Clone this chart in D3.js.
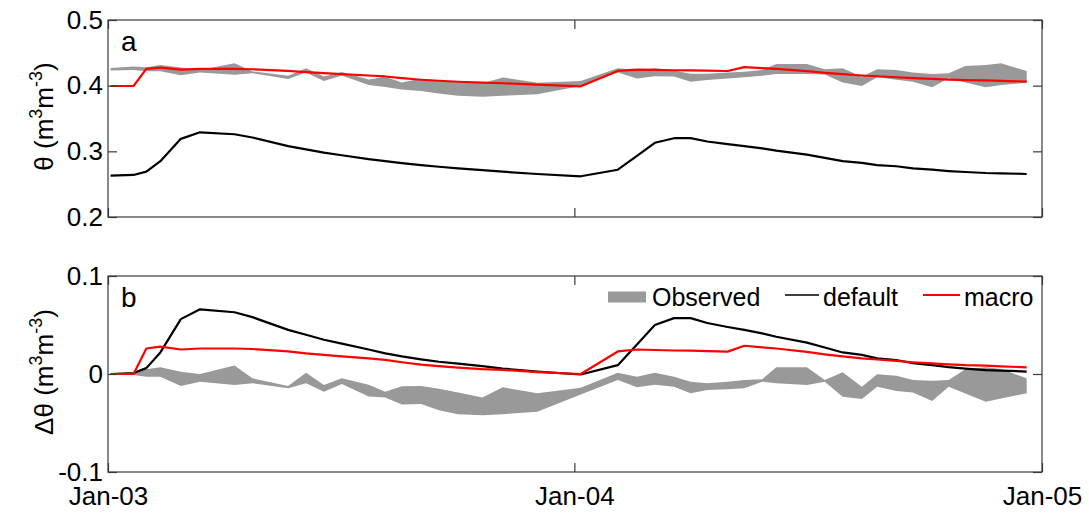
<!DOCTYPE html>
<html>
<head>
<meta charset="utf-8">
<script src="https://cdn.jsdelivr.net/npm/d3@7"></script>
<style>
  html, body { margin: 0; padding: 0; background: #fff; }
  svg { display: block; font-family: "Liberation Sans", Arial, Helvetica, sans-serif; }
</style>
</head>
<body>
<svg id="chart" width="1089" height="514"></svg>
<script>
// ---------------- data ----------------
const dates = ["2003-01-03","2003-01-21","2003-01-31","2003-02-11","2003-02-27","2003-03-14","2003-04-10","2003-04-24","2003-05-22","2003-06-05","2003-06-19","2003-07-03","2003-07-24","2003-08-06","2003-08-19","2003-09-03","2003-09-17","2003-10-02","2003-10-21","2003-11-06","2003-12-03","2004-01-06","2004-02-04","2004-02-19","2004-03-04","2004-03-19","2004-04-01","2004-04-14","2004-04-30","2004-05-13","2004-05-27","2004-06-07","2004-07-01","2004-07-15","2004-07-29","2004-08-13","2004-08-25","2004-09-09","2004-09-22","2004-10-07","2004-10-20","2004-11-02","2004-11-18","2004-11-30","2004-12-20"];

// panel a: soil water content theta (m3 m-3)
const defaultTheta = [0.263,0.264,0.269,0.285,0.319,0.329,0.326,0.321,0.308,0.303,0.298,0.294,0.288,0.285,0.282,0.279,0.2765,0.274,0.2715,0.269,0.2655,0.262,0.272,0.293,0.313,0.320,0.320,0.315,0.311,0.308,0.3045,0.301,0.295,0.290,0.285,0.2825,0.279,0.2773,0.274,0.272,0.270,0.2685,0.267,0.2665,0.2655];
const macroTheta = [0.3995,0.3995,0.4255,0.4275,0.4245,0.4255,0.4255,0.425,0.4225,0.4205,0.419,0.4175,0.4155,0.414,0.4115,0.409,0.4075,0.406,0.4045,0.4037,0.4015,0.399,0.4225,0.4245,0.424,0.4235,0.4233,0.4229,0.4223,0.4283,0.4267,0.4255,0.422,0.4195,0.4175,0.4155,0.4143,0.4128,0.4115,0.4103,0.4093,0.4085,0.408,0.4073,0.4063];
const observedThetaHigh = [0.427,0.429,0.428,0.4315,0.4275,0.424,0.434,0.422,0.415,0.4265,0.414,0.421,0.4095,0.4135,0.405,0.411,0.408,0.406,0.4035,0.4125,0.4045,0.407,0.4265,0.424,0.4265,0.423,0.418,0.418,0.420,0.4213,0.424,0.433,0.433,0.4249,0.4264,0.4137,0.4249,0.424,0.420,0.4178,0.4188,0.430,0.4315,0.434,0.4223];
const observedThetaLow = [0.423,0.424,0.422,0.422,0.416,0.420,0.4165,0.419,0.410,0.420,0.407,0.4155,0.401,0.398,0.394,0.392,0.388,0.3845,0.383,0.3845,0.387,0.3995,0.420,0.411,0.4145,0.414,0.406,0.4085,0.411,0.4127,0.415,0.4178,0.4178,0.417,0.405,0.3995,0.4127,0.409,0.406,0.3975,0.4112,0.405,0.3975,0.401,0.4046];

// panel b: change in soil water content (m3 m-3)
const defaultDelta = [0,0.001,0.006,0.022,0.056,0.066,0.063,0.058,0.045,0.040,0.035,0.031,0.025,0.021,0.018,0.015,0.0125,0.0105,0.008,0.0055,0.0025,-0.0005,0.009,0.030,0.050,0.057,0.057,0.052,0.048,0.045,0.0415,0.038,0.032,0.027,0.022,0.0195,0.016,0.0143,0.011,0.009,0.007,0.0055,0.004,0.0035,0.0025];
const macroDelta = [0,0,0.026,0.028,0.025,0.026,0.026,0.0255,0.023,0.021,0.0195,0.018,0.016,0.0145,0.012,0.0095,0.008,0.0065,0.005,0.0042,0.002,0,0.023,0.025,0.0245,0.024,0.0238,0.0234,0.0228,0.0288,0.0272,0.026,0.0225,0.020,0.018,0.016,0.0148,0.0133,0.012,0.0108,0.0098,0.009,0.0085,0.0078,0.0068];
const observedDeltaHigh = [0,0.001,0.0048,0.0068,0.0024,0,0.0088,-0.0044,-0.0122,0.0014,-0.0112,-0.0044,-0.011,-0.018,-0.0125,-0.0122,-0.015,-0.019,-0.024,-0.0135,-0.0197,-0.014,0.0014,-0.0027,0.0014,-0.0027,-0.0078,-0.0095,-0.0078,-0.0061,-0.0054,0.0068,0.0068,-0.0061,0.0017,-0.0129,-0.0003,-0.0017,-0.0061,-0.0068,-0.0061,0.0048,0.0068,0.005,-0.0044];
const observedDeltaLow = [0,-0.001,-0.0027,-0.0027,-0.0122,-0.0078,-0.0112,-0.0095,-0.0146,-0.0095,-0.018,-0.0102,-0.023,-0.024,-0.031,-0.0306,-0.037,-0.041,-0.042,-0.041,-0.0385,-0.021,-0.006,-0.0136,-0.011,-0.013,-0.0197,-0.0163,-0.0155,-0.0146,-0.0078,-0.0095,-0.0112,-0.0078,-0.0231,-0.0255,-0.0129,-0.0173,-0.019,-0.0276,-0.0129,-0.020,-0.0282,-0.025,-0.0197];

const xTickDates = ["2003-01-01","2004-01-01","2005-01-01"];
const xTickLabels = ["Jan-03","Jan-04","Jan-05"];
const yTicksTop = [0.2, 0.3, 0.4, 0.5];
const yTickLabelsTop = ["0.2","0.3","0.4","0.5"];
const yTicksBottom = [-0.1, 0, 0.1];
const yTickLabelsBottom = ["-0.1","0","0.1"];
const legendLabels = ["Observed","default","macro"];
const panelLetters = ["a","b"];

// ---------------- layout ----------------
const svg = d3.select("#chart");
const parse = d3.timeParse("%Y-%m-%d");
const t = dates.map(parse);

const X0 = 108, X1 = 1042;
const x = d3.scaleTime().domain([parse(xTickDates[0]), parse(xTickDates[2])]).range([X0, X1]);

const panels = [
  { top: 20, bottom: 217, domain: [0.2, 0.5], ticks: yTicksTop, labels: yTickLabelsTop,
    obsLo: observedThetaLow, obsHi: observedThetaHigh, def: defaultTheta, mac: macroTheta,
    letter: panelLetters[0], ylabelPrefix: "θ", showX: false },
  { top: 276, bottom: 472, domain: [-0.1, 0.1], ticks: yTicksBottom, labels: yTickLabelsBottom,
    obsLo: observedDeltaLow, obsHi: observedDeltaHigh, def: defaultDelta, mac: macroDelta,
    letter: panelLetters[1], ylabelPrefix: "Δθ", showX: true }
];

const axisColor = "#3a3a3a";
const tickLen = 9;
const fontSize = 26;

panels.forEach((p, pi) => {
  const y = d3.scaleLinear().domain(p.domain).range([p.bottom, p.top]);
  const g = svg.append("g");

  // observed band
  const area = d3.area()
    .x((d, i) => x(t[i]))
    .y0((d, i) => y(p.obsLo[i]))
    .y1((d, i) => y(p.obsHi[i]));
  g.append("path").datum(dates).attr("d", area).attr("fill", "#999999").attr("stroke", "none");

  const line = arr => d3.line().x((d, i) => x(t[i])).y((d, i) => y(arr[i]))(dates);
  g.append("path").attr("d", line(p.def)).attr("fill", "none").attr("stroke", "#000").attr("stroke-width", 2.2).attr("stroke-linejoin", "round");
  g.append("path").attr("d", line(p.mac)).attr("fill", "none").attr("stroke", "#ff0000").attr("stroke-width", 2.2).attr("stroke-linejoin", "round");

  // axes (ticks inside)
  const xt = xTickDates.map(parse);
  const axB = d3.axisBottom(x).tickValues(xt).tickSizeInner(-tickLen).tickSizeOuter(0).tickPadding(14)
      .tickFormat((d, i) => p.showX ? xTickLabels[i] : "");
  const axT = d3.axisTop(x).tickValues(xt).tickSizeInner(-tickLen).tickSizeOuter(0).tickFormat("");
  const axL = d3.axisLeft(y).tickValues(p.ticks).tickSizeInner(-tickLen).tickSizeOuter(0).tickPadding(5)
      .tickFormat((d, i) => p.labels[i]);
  const axR = d3.axisRight(y).tickValues(p.ticks).tickSizeInner(-tickLen).tickSizeOuter(0).tickFormat("");

  const gB = g.append("g").attr("transform", `translate(0,${p.bottom})`).call(axB);
  const gT = g.append("g").attr("transform", `translate(0,${p.top})`).call(axT);
  const gL = g.append("g").attr("transform", `translate(${X0},0)`).call(axL);
  const gR = g.append("g").attr("transform", `translate(${X1},0)`).call(axR);
  [gB, gT, gL, gR].forEach(a => {
    a.select(".domain").remove();
    a.selectAll(".tick line").attr("stroke", axisColor).attr("stroke-width", 1.2);
    a.selectAll(".tick text").attr("fill", "#000").style("font-size", fontSize + "px")
      .style("font-family", '"Liberation Sans", Arial, sans-serif');
  });
  // x labels: baseline ~ 505
  gB.selectAll(".tick text").attr("dy", null).attr("y", 33);

  // frame
  g.append("rect").attr("x", X0).attr("y", p.top).attr("width", X1 - X0).attr("height", p.bottom - p.top)
    .attr("fill", "none").attr("stroke", axisColor).attr("stroke-width", 1.2);

  // panel letter
  g.append("text").attr("x", 121).attr("y", p.top + 31).text(p.letter)
    .attr("font-size", 28).attr("fill", "#000");

  // y label
  const cy = (p.top + p.bottom) / 2 - 2;
  const lab = g.append("text").attr("transform", `translate(53,${cy}) rotate(-90)`)
    .attr("text-anchor", "middle").attr("font-size", 26).attr("fill", "#000");
  lab.append("tspan").text(p.ylabelPrefix + " (m");
  lab.append("tspan").text("3").attr("font-size", 18).attr("dy", -11);
  lab.append("tspan").text("m").attr("dy", 11);
  lab.append("tspan").text("-3").attr("font-size", 18).attr("dy", -11);
  lab.append("tspan").text(")").attr("dy", 11);

  // legend in panel b
  if (pi === 1) {
    const lg = g.append("g");
    const ly = 297;
    lg.append("rect").attr("x", 608).attr("y", ly - 5.5).attr("width", 38).attr("height", 11).attr("fill", "#999999");
    lg.append("text").attr("x", 652).attr("y", ly + 9).text(legendLabels[0]).attr("font-size", 25).attr("fill", "#000");
    lg.append("line").attr("x1", 785).attr("x2", 819).attr("y1", ly - 2).attr("y2", ly - 2).attr("stroke", "#000").attr("stroke-width", 1.5);
    lg.append("text").attr("x", 823).attr("y", ly + 9).text(legendLabels[1]).attr("font-size", 25).attr("fill", "#000");
    lg.append("line").attr("x1", 923).attr("x2", 960).attr("y1", ly - 2).attr("y2", ly - 2).attr("stroke", "#ff0000").attr("stroke-width", 2);
    lg.append("text").attr("x", 964).attr("y", ly + 9).text(legendLabels[2]).attr("font-size", 25).attr("fill", "#000");
  }
});
</script>
</body>
</html>
